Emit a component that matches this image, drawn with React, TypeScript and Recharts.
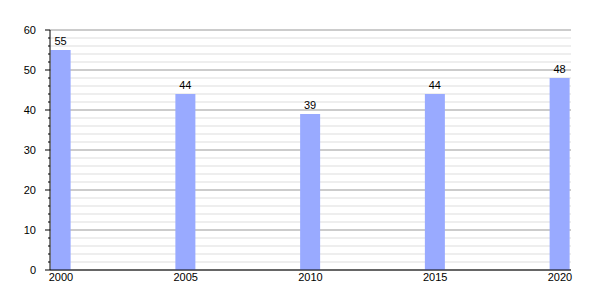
import { BarChart, Bar, XAxis, YAxis, CartesianGrid, LabelList } from "recharts";

const YEARS = [2000, 2005, 2010, 2015, 2020];
const VALUES = [55, 44, 39, 44, 48];
const X_TICKS = [2000, 2005, 2010, 2015, 2020];
const MAJOR_TICKS = [0, 10, 20, 30, 40, 50, 60];
const ALL_TICKS = [0, 2, 4, 6, 8, 10, 12, 14, 16, 18, 20, 22, 24, 26, 28, 30, 32, 34, 36, 38, 40, 42, 44, 46, 48, 50, 52, 54, 56, 58, 60];

const data = YEARS.map((year, i) => ({ year, value: VALUES[i] }));

const FONT = '"Liberation Sans", Arial, sans-serif';
const BAR_COLOR = "#99aaff";

// map a y value to pixels with the grid's own y scale
const gridY = (props: any, v: number) => {
  const s = props?.yAxis?.scale;
  if (typeof s === "function") return s(v);
  if (s && typeof s.map === "function") return s.map(v);
  const o = props.offset;
  return o.top + o.height * (1 - v / 60);
};

const YTick = (props: any) => {
  const { x, y, payload } = props;
  const major = MAJOR_TICKS.includes(payload.value);
  return (
    <g>
      <line x1={x - (major ? 5 : 2)} x2={x} y1={y} y2={y} stroke="#000" strokeWidth={1} />
      {major && (
        <text x={x - 14} y={y} dy="0.355em" textAnchor="end" fontSize={11} fontFamily={FONT} fill="#000">
          {payload.value}
        </text>
      )}
    </g>
  );
};

export default function App() {
  return (
    <BarChart width={584} height={284} data={data} margin={{ top: 22, right: 21, bottom: 2, left: 0 }}>
      <CartesianGrid
        vertical={false}
        stroke="#dddddd"
        horizontalCoordinatesGenerator={(p: any) => ALL_TICKS.map((v) => gridY(p, v))}
      />
      <CartesianGrid
        vertical={false}
        stroke="#aaaaaa"
        fill="none"
        horizontalCoordinatesGenerator={(p: any) => MAJOR_TICKS.map((v) => gridY(p, v))}
      />
      <XAxis
        dataKey="year"
        type="number"
        domain={[2000, 2020]}
        ticks={X_TICKS}
        padding={{ left: 11, right: 11 }}
        tickLine={false}
        tickSize={0}
        tickMargin={3}
        height={20}
        axisLine={{ stroke: "#000" }}
        tick={{ fontSize: 11, fontFamily: FONT, fill: "#000" }}
      />
      <YAxis
        type="number"
        domain={[0, 60]}
        ticks={ALL_TICKS}
        interval={0}
        width={42}
        tickLine={false}
        tickSize={0}
        tickMargin={0}
        axisLine={{ stroke: "#000" }}
        tick={<YTick />}
      />
      <Bar dataKey="value" fill={BAR_COLOR} barSize={20} isAnimationActive={false}>
        <LabelList dataKey="value" position="top" offset={5} fontSize={11} fontFamily={FONT} fill="#000" />
      </Bar>
    </BarChart>
  );
}
